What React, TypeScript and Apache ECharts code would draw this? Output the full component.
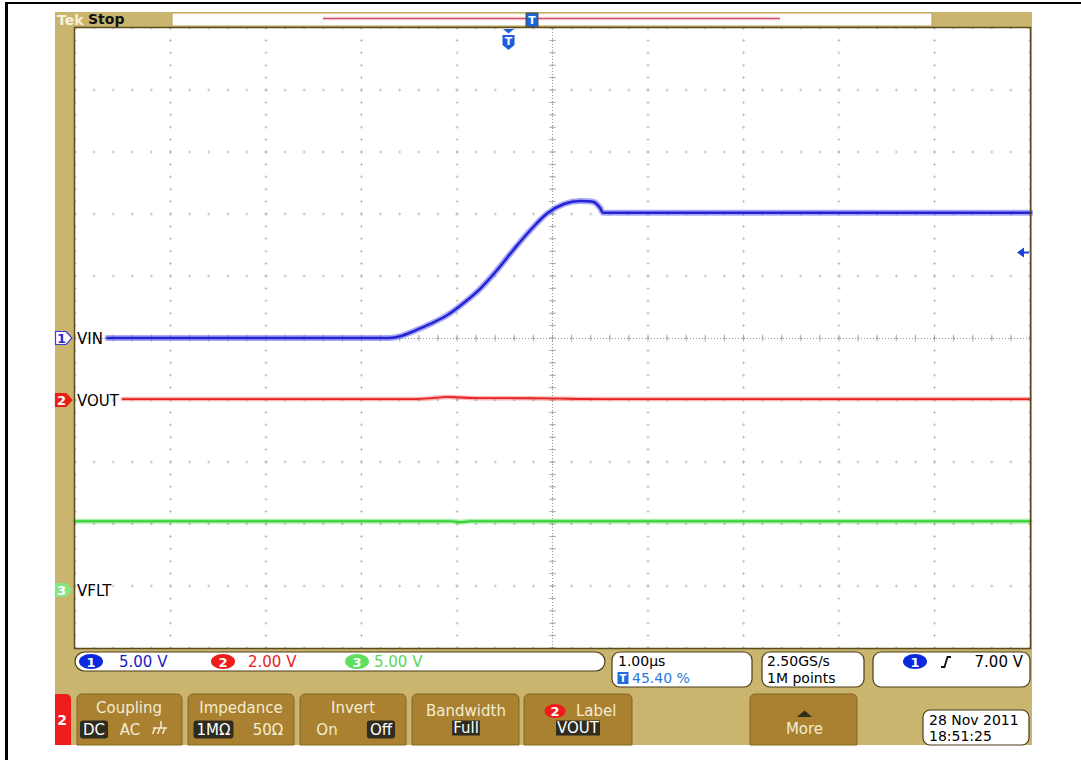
import React, { useEffect, useRef } from "react";
import * as echarts from "echarts";

// ---------- scope settings ----------
const X_MIN = -4.54; // µs at left edge (trigger at 45.40 %)
const X_MAX = 5.46; // µs at right edge
const DIVS_X = 10;
const DIVS_Y = 10;

// ---------- channel 1 : VIN (5.00 V/div, ground at 0 div) ----------
const vinTime = [-4.2, -1.25, -1.13, -0.99, -0.82, -0.64, -0.47, -0.29, -0.12, 0.05, 0.23, 0.41, 0.58, 0.75, 0.89, 0.96, 0.99, 1.1, 5.47];
const vinVolts = [0.0, 0.0, 0.15, 0.56, 1.13, 1.85, 2.82, 4.03, 5.48, 7.1, 8.71, 10.08, 10.81, 11.05, 10.97, 10.48, 10.1, 10.1, 10.1];
const vinScale = 5;
const vinOffset = 0;

// ---------- channel 2 : VOUT (2.00 V/div, ground at -1.00 div) ----------
const voutTime = [-4.04, -1.0, -0.8, -0.65, -0.5, -0.3, 0.0, 0.4, 1.0, 5.46];
const voutVolts = [0.03, 0.03, 0.06, 0.1, 0.08, 0.06, 0.06, 0.05, 0.03, 0.03];
const voutScale = 2;
const voutOffset = -1.0;

// ---------- channel 3 : VFLT (5.00 V/div, ground at -4.05 div) ----------
const vfltTime = [-4.54, -0.6, -0.5, -0.4, 5.46];
const vfltVolts = [5.48, 5.48, 5.4, 5.48, 5.48];
const vfltScale = 5;
const vfltOffset = -4.05;

// ---------- readouts ----------
const chScaleLabels = ["5.00 V", "2.00 V", "5.00 V"];
const timebaseLabel = "1.00µs";
const triggerPosLabel = "45.40 %";
const sampleRateLabel = "2.50GS/s";
const recordLabel = "1M points";
const triggerLevelLabel = "7.00 V";
const dateLabel = "28 Nov 2011";
const timeLabel = "18:51:25";
const channelNames = ["VIN", "VOUT", "VFLT"];

const F = '"DejaVu Sans", Verdana, sans-serif';
const TAN = "#C9B56E";
const BTN = "#A98130";
const DARK = "#2e2b1f";
const BLUE = "#0b2ae0";
const RED = "#ee1c1c";

function toDiv(t: number[], v: number[], scale: number, offset: number) {
  return t.map((tt, i) => [tt, v[i] / scale + offset]);
}

function rect(x: number, y: number, w: number, h: number, fill: string, extra: any = {}) {
  return { type: "rect", z: extra.z ?? 10, shape: { x, y, width: w, height: h, r: extra.r ?? 0 }, style: { fill, stroke: extra.stroke, lineWidth: extra.lineWidth ?? 1 }, silent: true };
}
function txt(x: number, y: number, text: string, o: any = {}) {
  const align = o.align ?? "left";
  return {
    type: "text",
    z: o.z ?? 120,
    x,
    y,
    silent: true,
    style: {
      text,
      fill: o.fill ?? "#000",
      fontSize: o.size ?? 15,
      fontFamily: o.family ?? F,
      fontWeight: o.weight ?? "normal",
      align,
      textAlign: align,
      verticalAlign: "middle",
      textVerticalAlign: "middle",
      backgroundColor: o.bg,
      padding: o.pad,
      borderRadius: o.br,
    },
  };
}
function poly(points: number[][], fill: string, extra: any = {}) {
  return { type: "polygon", z: extra.z ?? 120, silent: true, shape: { points }, style: { fill, stroke: extra.stroke, lineWidth: extra.lineWidth ?? 1 } };
}
function line(x1: number, y1: number, x2: number, y2: number, stroke: string, w = 1, z = 120) {
  return { type: "line", z, silent: true, shape: { x1, y1, x2, y2 }, style: { stroke, lineWidth: w } };
}
function ell(cx: number, cy: number, rx: number, ry: number, fill: string, z = 120) {
  return { type: "ellipse", z, silent: true, shape: { cx, cy, rx, ry }, style: { fill } };
}

function buildGraphics() {
  const g: any[] = [];
  // outer black border (top + left)
  g.push(rect(5, 2, 1076, 2, "#000", { z: 1 }));
  g.push(rect(5, 2, 3, 758, "#000", { z: 1 }));
  // tan frame
  g.push(rect(55, 12, 977, 733, TAN, { z: 0 }));
  // white plot area
  g.push(rect(75, 28, 955, 620, "#fff", { z: 1 }));
  // plot border
  g.push({ type: "rect", z: 60, silent: true, shape: { x: 74.5, y: 27.5, width: 956, height: 621 }, style: { fill: "none", stroke: "#5c4b1d", lineWidth: 1.5 } });

  // top record bar
  g.push(rect(172, 13, 760, 13, "#fffdfb", { stroke: "#b8a255", z: 20 }));
  g.push(rect(323, 16.5, 457, 4, "#f9e6ea", { z: 21 }));
  g.push(line(323, 18.5, 780, 18.5, "#d85068", 1.4, 22));
  g.push(rect(526, 13, 12, 14, "#1b64dc", { stroke: "#4a4a4a", z: 23 }));
  g.push(txt(532, 20.5, "T", { fill: "#fff", size: 11, weight: "bold", align: "center" }));
  g.push(txt(57, 19.5, "Tek", { fill: "#f7f1dc", size: 14, weight: "bold" }));
  g.push(txt(88, 19, "Stop", { fill: "#111", size: 14, weight: "bold" }));

  // trigger position marker
  g.push(poly([[503, 29], [514, 29], [508.5, 33.5]], "#1a5fd8"));
  g.push(poly([[502.5, 35], [514.5, 35], [514.5, 45], [508.5, 50], [502.5, 45]], "#1a5fd8"));
  g.push(txt(508.5, 41.5, "T", { fill: "#fff", size: 11, weight: "bold", align: "center" }));

  // trigger level arrow (right)
  g.push(poly([[1017, 252.5], [1024, 247.5], [1024, 257.5]], "#1c3fd8"));
  g.push(rect(1023, 251.5, 6, 2, "#1c3fd8", { z: 120 }));

  // ground markers + labels
  const gm = (y: number, n: string, fill: string, stroke: string, tc: string) => {
    g.push(poly([[55.5, y - 6.5], [66, y - 6.5], [72, y], [66, y + 6.5], [55.5, y + 6.5]], fill, { stroke, lineWidth: 1.2 }));
    g.push(txt(61.5, y + 0.5, n, { fill: tc, size: 13, weight: "bold", align: "center" }));
  };
  gm(338, "1", "#fff", "#3a3ad8", "#2a2ad0");
  gm(400, "2", "#e8201c", "#e8201c", "#fff");
  gm(590, "3", "#86e486", "#86e486", "#fff");
  g.push(txt(77, 338.5, channelNames[0], { size: 15 }));
  g.push(txt(77, 400.5, channelNames[1], { size: 15 }));
  g.push(txt(77, 590.5, channelNames[2], { size: 15 }));

  // readout row
  const box = (x: number, y: number, w: number, h: number, r: number) =>
    g.push({ type: "rect", z: 110, silent: true, shape: { x, y, width: w, height: h, r }, style: { fill: "#fff", stroke: "#4a3d18", lineWidth: 1.2 } });
  box(75, 652, 530, 19, 9.5);
  const chip = (cx: number, cy: number, n: string, fill: string) => {
    g.push(ell(cx, cy, 12, 7.5, fill));
    g.push(txt(cx, cy + 0.5, n, { fill: "#fff", size: 13, weight: "bold", align: "center", z: 121 }));
  };
  chip(91, 661.5, "1", BLUE);
  g.push(txt(119, 662, chScaleLabels[0], { fill: "#1a1ac4", size: 15 }));
  chip(223, 661.5, "2", RED);
  g.push(txt(248, 662, chScaleLabels[1], { fill: "#e81c1c", size: 15 }));
  chip(357, 661.5, "3", "#5ee05e");
  g.push(txt(374, 662, chScaleLabels[2], { fill: "#5ad85a", size: 15 }));

  box(612, 652, 140, 35, 8);
  g.push(txt(618, 661, timebaseLabel, { size: 14 }));
  g.push(rect(617.5, 672, 11, 12, "#1a6ee0", { z: 120 }));
  g.push(txt(623, 678.5, "T", { fill: "#fff", size: 10, weight: "bold", align: "center", z: 121 }));
  g.push(txt(632, 678, triggerPosLabel, { fill: "#2a78e0", size: 14 }));

  box(762, 652, 102, 35, 8);
  g.push(txt(767, 661, sampleRateLabel, { size: 14 }));
  g.push(txt(767, 678, recordLabel, { size: 14 }));

  box(873, 652, 157, 35, 8);
  chip(915, 661.5, "1", BLUE);
  g.push({ type: "polyline", z: 120, silent: true, shape: { points: [[941, 667], [944.5, 667], [947.5, 657], [951, 657]] }, style: { stroke: "#111", lineWidth: 1.8, fill: "none" } });
  g.push(txt(1023, 662, triggerLevelLabel, { size: 15, align: "right" }));

  // bottom buttons
  g.push(rect(55, 694, 16, 51, RED, { r: [0, 5, 0, 0], z: 100 }));
  g.push(txt(62, 719.5, "2", { fill: "#fff", size: 14, weight: "bold", align: "center" }));
  const btn = (x: number, w: number) => g.push(rect(x, 694, w, 51, BTN, { r: [5, 5, 0, 0], stroke: "#86661f", z: 100 }));
  const title = (cx: number, y: number, t: string) => g.push(txt(cx, y, t, { fill: "#f4ecd2", size: 15, align: "center" }));
  const hl = (cx: number, y: number, t: string) => g.push(txt(cx, y, t, { fill: "#fff", size: 15, align: "center", bg: DARK, pad: [2, 3, 1, 3], br: 3 }));
  const opt = (cx: number, y: number, t: string) => g.push(txt(cx, y, t, { fill: "#f4ecd2", size: 15, align: "center" }));

  btn(77, 105);
  title(129, 707.5, "Coupling");
  hl(94, 729.5, "DC");
  opt(130, 729.5, "AC");
  // chassis ground glyph
  g.push(line(153, 728, 167, 728, "#f4ecd2", 1.5));
  g.push(line(161, 721, 161, 728, "#f4ecd2", 1.5));
  g.push(line(155, 728, 152.5, 734, "#f4ecd2", 1.5));
  g.push(line(160, 728, 157.5, 734, "#f4ecd2", 1.5));
  g.push(line(165, 728, 162.5, 734, "#f4ecd2", 1.5));

  btn(188, 106);
  title(241, 707.5, "Impedance");
  hl(213.5, 729.5, "1MΩ");
  opt(268, 729.5, "50Ω");

  btn(300, 106);
  title(353, 707.5, "Invert");
  opt(327, 729.5, "On");
  hl(381, 729.5, "Off");

  btn(412, 107);
  title(466, 711, "Bandwidth");
  g.push(txt(466, 728, "Full", { fill: "#fff", size: 15, align: "center", bg: DARK, pad: [0, 1, 0, 1] }));

  btn(524, 108);
  g.push(ell(555, 711, 10.5, 7, RED));
  g.push(txt(555, 711.5, "2", { fill: "#fff", size: 13, weight: "bold", align: "center", z: 121 }));
  g.push(txt(576, 711, "Label", { fill: "#f4ecd2", size: 15 }));
  g.push(txt(578, 728, "VOUT", { fill: "#fff", size: 15, align: "center", bg: DARK, pad: [0, 1, 0, 1] }));

  btn(750, 107);
  g.push(poly([[797, 717], [804.5, 710.5], [812, 717]], DARK));
  title(804.5, 728.5, "More");

  g.push({ type: "rect", z: 110, silent: true, shape: { x: 923, y: 710, width: 106, height: 35, r: 7 }, style: { fill: "#fff", stroke: "#4a3d18", lineWidth: 1.2 } });
  g.push(txt(929, 719.5, dateLabel, { size: 14 }));
  g.push(txt(929, 736, timeLabel, { size: 14 }));
  return g;
}

function buildGraticule() {
  const dots: number[][] = [];
  for (let i = 0; i <= DIVS_X; i++) for (let k = 0; k <= DIVS_Y * 5; k++) dots.push([i, -5 + k * 0.2]);
  for (let j = 0; j <= DIVS_Y; j++) for (let k = 0; k <= DIVS_X * 5; k++) dots.push([k * 0.2, -5 + j]);
  const vTicks: number[][] = [];
  for (let k = 0; k <= DIVS_Y * 5; k++) vTicks.push([5, -5 + k * 0.2]);
  const hTicks: number[][] = [];
  for (let k = 0; k <= DIVS_X * 5; k++) hTicks.push([k * 0.2, 0]);
  return { dots, vTicks, hTicks };
}

function traceSeries(name: string, data: number[][], halo: string, core: string, hw: number, cw: number) {
  return [
    { name: name + "-halo", type: "line", xAxisIndex: 1, yAxisIndex: 0, data, showSymbol: false, symbol: "none", smooth: 0.35, lineStyle: { color: halo, width: hw, cap: "round", join: "round" }, silent: true, z: 5 },
    { name, type: "line", xAxisIndex: 1, yAxisIndex: 0, data, showSymbol: false, symbol: "none", smooth: 0.35, lineStyle: { color: core, width: cw, cap: "round", join: "round" }, silent: true, z: 6 },
  ];
}

export default function App() {
  const ref = useRef<HTMLDivElement>(null);
  useEffect(() => {
    if (!ref.current) return;
    const chart = echarts.init(ref.current, undefined, { renderer: "svg" });
    const { dots, vTicks, hTicks } = buildGraticule();
    chart.setOption({
      animation: false,
      backgroundColor: "#fff",
      grid: { left: 75, top: 28, width: 955, height: 620, show: false },
      xAxis: [
        { type: "value", min: 0, max: DIVS_X, interval: 1, show: false },
        { type: "value", min: X_MIN, max: X_MAX, show: false },
      ],
      yAxis: [{ type: "value", min: -5, max: 5, interval: 1, show: false }],
      series: [
        {
          type: "scatter", xAxisIndex: 0, yAxisIndex: 0, data: dots, symbol: "path://M1,0h1v3h-1zM0,1h3v1h-3z", symbolSize: 3,
          itemStyle: { color: "#b8b8b8" }, silent: true, z: 2,
          markLine: {
            silent: true, symbol: "none", label: { show: false },
            lineStyle: { color: "#9a9a9a", width: 1, type: [1, 2] },
            data: [{ xAxis: 5 }, { yAxis: 0 }],
          },
        },
        { type: "scatter", xAxisIndex: 0, yAxisIndex: 0, data: vTicks, symbol: "rect", symbolSize: [7, 1], itemStyle: { color: "#a0a0a0" }, silent: true, z: 2 },
        { type: "scatter", xAxisIndex: 0, yAxisIndex: 0, data: hTicks, symbol: "rect", symbolSize: [1, 7], itemStyle: { color: "#a0a0a0" }, silent: true, z: 2 },
        ...traceSeries("VFLT", toDiv(vfltTime, vfltVolts, vfltScale, vfltOffset), "rgba(70,220,70,0.45)", "#2fd22f", 5, 2),
        ...traceSeries("VOUT", toDiv(voutTime, voutVolts, voutScale, voutOffset), "rgba(245,90,90,0.45)", "#e82222", 4.5, 1.8),
        ...traceSeries("VIN", toDiv(vinTime, vinVolts, vinScale, vinOffset), "rgba(80,80,235,0.5)", "#2323d6", 6, 2.5),
      ],
      graphic: { elements: buildGraphics() },
    });
    return () => chart.dispose();
  }, []);
  return <div ref={ref} style={{ position: "absolute", left: 0, top: 0, width: 1081, height: 760, background: "#fff" }} />;
}
